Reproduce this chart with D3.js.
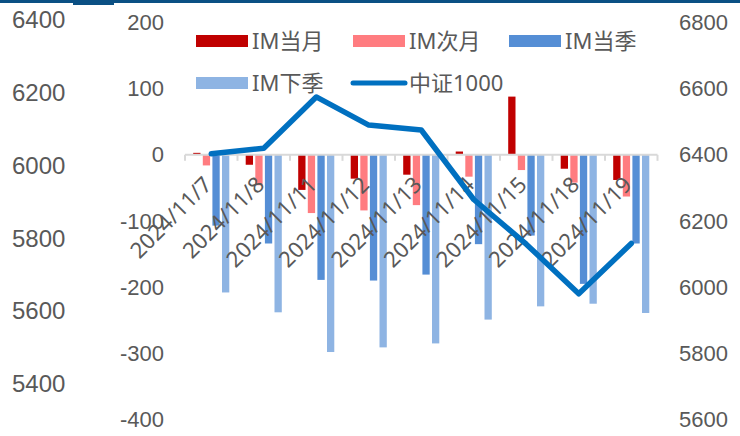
<!DOCTYPE html>
<meta charset="utf-8">
<head>
<style>
  body { margin: 0; background: #fff; }
  svg { display: block; font-family: "Noto Sans", "Noto Sans CJK SC", sans-serif; }
  .tick text { fill: #595959; }
  .lg { fill: #595959; font-size: 22px; }
</style>
</head>
<body>
<svg id="chart" width="740" height="436"></svg>
<script src="https://cdn.jsdelivr.net/npm/d3@7"></script>
<script>

// data
var dates = ["2024/11/7","2024/11/8","2024/11/11","2024/11/12","2024/11/13","2024/11/14","2024/11/15","2024/11/18","2024/11/19"];
var series = ["IM当月","IM次月","IM当季","IM下季"];
var imDangYue = [3, -15, -53, -36, -30, 5, 88, -21, -38];
var imCiYue   = [-16, -46, -88, -84, -76, -33, -23, -42, -63];
var imDangJi  = [-107, -134, -189, -190, -181, -135, -122, -195, -134];
var imXiaJi   = [-208, -238, -298, -291, -285, -249, -229, -225, -239];
var zz1000    = [6403, 6420, 6575, 6490, 6475, 6265, 6130, 5980, 6132];

var colors = ["#c00000", "#ff7c80", "#558ed5", "#8eb4e3"];
var barTicks = [-400, -300, -200, -100, 0, 100, 200];
var rightTicks = [5600, 5800, 6000, 6200, 6400, 6600, 6800];
var farLeftTicks = [5400, 5600, 5800, 6000, 6200, 6400];

var svg = d3.select("#chart");

// top strip
svg.append("rect").attr("x", 0).attr("y", 0).attr("width", 740).attr("height", 3).attr("fill", "#0b5084");
svg.append("rect").attr("x", 73).attr("y", 0).attr("width", 41).attr("height", 5).attr("fill", "#0b5084");

// scales
var x0 = d3.scaleBand().domain(dates).range([185, 657.5]).padding(0);
var x1 = d3.scaleBand().domain(series).range([0, x0.bandwidth()]).paddingInner(0.24).paddingOuter(0.855);
var y = d3.scaleLinear().domain([-400, 200]).range([419.5, 22.5]);
var yR = d3.scaleLinear().domain([5600, 6800]).range([419.5, 22.5]);
var yL = d3.scaleLinear().domain([5400, 6400]).range([383.8, 20.3]);

var fmt = function(d) { return String(d); };  // plain hyphen minus like the original

// axes (labels only)
function styleAxis(g, size) {
  g.select(".domain").remove();
  g.selectAll(".tick line").remove();
  g.selectAll(".tick text").style("font-size", size + "px");
}
svg.append("g").attr("transform", "translate(12,0)")
  .call(d3.axisRight(yL).tickValues(farLeftTicks).tickSize(0).tickPadding(0).tickFormat(fmt))
  .call(styleAxis, 24);
svg.append("g").attr("transform", "translate(164,0)")
  .call(d3.axisLeft(y).tickValues(barTicks).tickSize(0).tickPadding(0).tickFormat(fmt))
  .call(styleAxis, 22);
svg.append("g").attr("transform", "translate(679,0)")
  .call(d3.axisRight(yR).tickValues(rightTicks).tickSize(0).tickPadding(0).tickFormat(fmt))
  .call(styleAxis, 22);

// bars
var allSeries = [imDangYue, imCiYue, imDangJi, imXiaJi];
allSeries.forEach(function(vals, si) {
  svg.append("g").selectAll("rect")
    .data(vals)
    .enter()
    .append("rect")
      .attr("x", function(d, i) { return x0(dates[i]) + x1(series[si]); })
      .attr("y", function(d) { return y(Math.max(0, d)); })
      .attr("width", x1.bandwidth())
      .attr("height", function(d) { return Math.abs(y(d) - y(0)); })
      .attr("fill", colors[si]);
});

// category axis at zero
var xAxis = svg.append("g").attr("transform", "translate(0," + y(0) + ")");
xAxis.append("line")
  .attr("x1", x0.range()[0]).attr("x2", x0.range()[1])
  .attr("stroke", "#d9d9d9").attr("stroke-width", 2);
xAxis.selectAll(".tk")
  .data(dates.concat(["end"]))
  .enter()
  .append("line")
    .attr("x1", function(d, i) { return x0.range()[0] + i * x0.step(); })
    .attr("x2", function(d, i) { return x0.range()[0] + i * x0.step(); })
    .attr("y1", 0).attr("y2", 6)
    .attr("stroke", "#d9d9d9").attr("stroke-width", 2);

// date labels
svg.append("g").selectAll("text")
  .data(dates)
  .enter()
  .append("text")
    .attr("transform", function(d) {
      return "translate(" + (x0(d) + x0.bandwidth() / 2 + 2) + ",186) rotate(-45)";
    })
    .attr("text-anchor", "end")
    .style("font-size", "22px")
    .attr("fill", "#595959")
    .text(function(d) { return d; });

// line
var line = d3.line()
  .x(function(d, i) { return x0(dates[i]) + x0.bandwidth() / 2; })
  .y(function(d) { return yR(d); });
svg.append("path")
  .datum(zz1000)
  .attr("d", line)
  .attr("fill", "none")
  .attr("stroke", "#0070c0")
  .attr("stroke-width", 5.5)
  .attr("stroke-linejoin", "round")
  .attr("stroke-linecap", "round");

// legend
var legendItems = [
  { name: "IM当月", type: "bar", color: colors[0], x: 196, y: 41 },
  { name: "IM次月", type: "bar", color: colors[1], x: 353, y: 41 },
  { name: "IM当季", type: "bar", color: colors[2], x: 509, y: 41 },
  { name: "IM下季", type: "bar", color: colors[3], x: 196, y: 83 },
  { name: "中证1000", type: "line", color: "#0070c0", x: 353, y: 83 }
];
var lg = svg.append("g").selectAll("g").data(legendItems).enter().append("g");
lg.filter(function(d) { return d.type === "bar"; })
  .append("rect")
    .attr("x", function(d) { return d.x; })
    .attr("y", function(d) { return d.y - 6; })
    .attr("width", 52).attr("height", 12)
    .attr("fill", function(d) { return d.color; });
lg.filter(function(d) { return d.type === "line"; })
  .append("line")
    .attr("x1", function(d) { return d.x; })
    .attr("x2", function(d) { return d.x + 52; })
    .attr("y1", function(d) { return d.y; })
    .attr("y2", function(d) { return d.y; })
    .attr("stroke", function(d) { return d.color; })
    .attr("stroke-width", 5)
    .attr("stroke-linecap", "round");
lg.append("text")
  .attr("class", "lg")
  .attr("x", function(d) { return d.x + 56; })
  .attr("y", function(d) { return d.y; })
  .attr("dy", "0.35em")
  .text(function(d) { return d.name; });

</script>
</body>
